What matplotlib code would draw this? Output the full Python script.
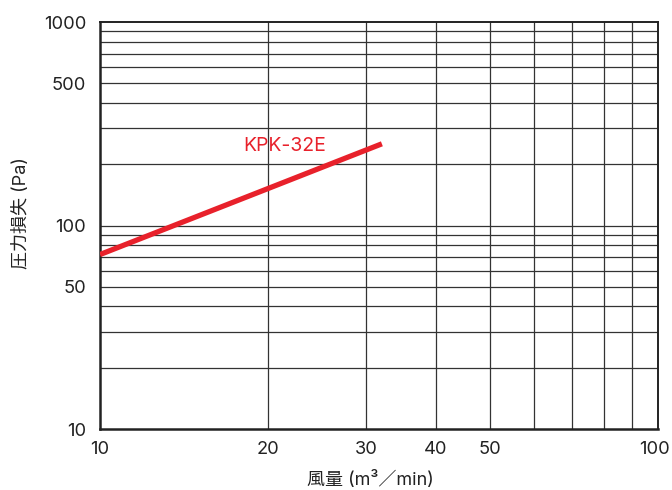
import matplotlib
matplotlib.use("Agg")
import matplotlib.pyplot as plt
from matplotlib.ticker import FixedLocator, NullFormatter, FixedFormatter
from matplotlib.transforms import ScaledTranslation

# Data
flow = [10, 32]            # 風量 (m3/min)
pressure = [72, 252]       # 圧力損失 (Pa)
series_name = "KPK-32E"
label_pos = (21.4, 246)

x_ticks = [10, 20, 30, 40, 50, 100]
x_tick_labels = ["10", "20", "30", "40", "50", "100"]
y_ticks = [10, 50, 100, 500, 1000]
y_tick_labels = ["10", "50", "100", "500", "1000"]
x_grid = [20, 30, 40, 50, 60, 70, 80, 90]
y_grid = [20, 30, 40, 50, 60, 70, 80, 90, 100, 200, 300, 400, 500, 600, 700, 800, 900]

plt.rcParams['font.family'] = ['Inter', 'Noto Sans CJK JP', 'DejaVu Sans']

fig = plt.figure(figsize=(6.72, 4.9), dpi=100)
ax = fig.add_axes([100/672, 1-429/490, 558/672, 407/490])
ax.set_xscale('log')
ax.set_yscale('log')
ax.set_xlim(10, 100)
ax.set_ylim(10, 1000)

for gx in x_grid:
    ax.axvline(gx, color='#333333', lw=0.9, zorder=1)
for gy in y_grid:
    ax.axhline(gy, color='#333333', lw=0.9, zorder=1)

red = '#e8212b'
ax.plot(flow, pressure, color=red, lw=3.8, solid_capstyle='butt', zorder=3)
ax.text(label_pos[0], label_pos[1], series_name, color=red, fontsize=14,
        ha='center', va='center')

ax.xaxis.set_major_locator(FixedLocator(x_ticks))
ax.xaxis.set_major_formatter(FixedFormatter(x_tick_labels))
ax.xaxis.set_minor_formatter(NullFormatter())
ax.yaxis.set_major_locator(FixedLocator(y_ticks))
ax.yaxis.set_major_formatter(FixedFormatter(y_tick_labels))
ax.yaxis.set_minor_formatter(NullFormatter())
ax.tick_params(which='both', length=0)
ax.tick_params(axis='x', labelsize=13.2, pad=9, colors='#222222')
ax.tick_params(axis='y', labelsize=13.2, pad=10, colors='#222222')

for s in ['left', 'bottom']:
    ax.spines[s].set_linewidth(1.8)
for s in ['top', 'right']:
    ax.spines[s].set_linewidth(1.4)
for s in ax.spines.values():
    s.set_color('#222222')

ax.set_xlabel("風量 (m³／min)", fontsize=13, color='#222222', labelpad=9)
ax.set_ylabel("圧力損失 (Pa)", fontsize=13, color='#222222', labelpad=10)
ax.xaxis.label.set_x((370 - 100) / 558)
ax.yaxis.label.set_y((429 - 213) / 407)

fig.canvas.draw()
last = ax.xaxis.get_major_ticks()[-1]
last.label1.set_transform(last.label1.get_transform()
                          + ScaledTranslation(-3 / 100, 0, fig.dpi_scale_trans))

fig.savefig("out.png", dpi=100)
